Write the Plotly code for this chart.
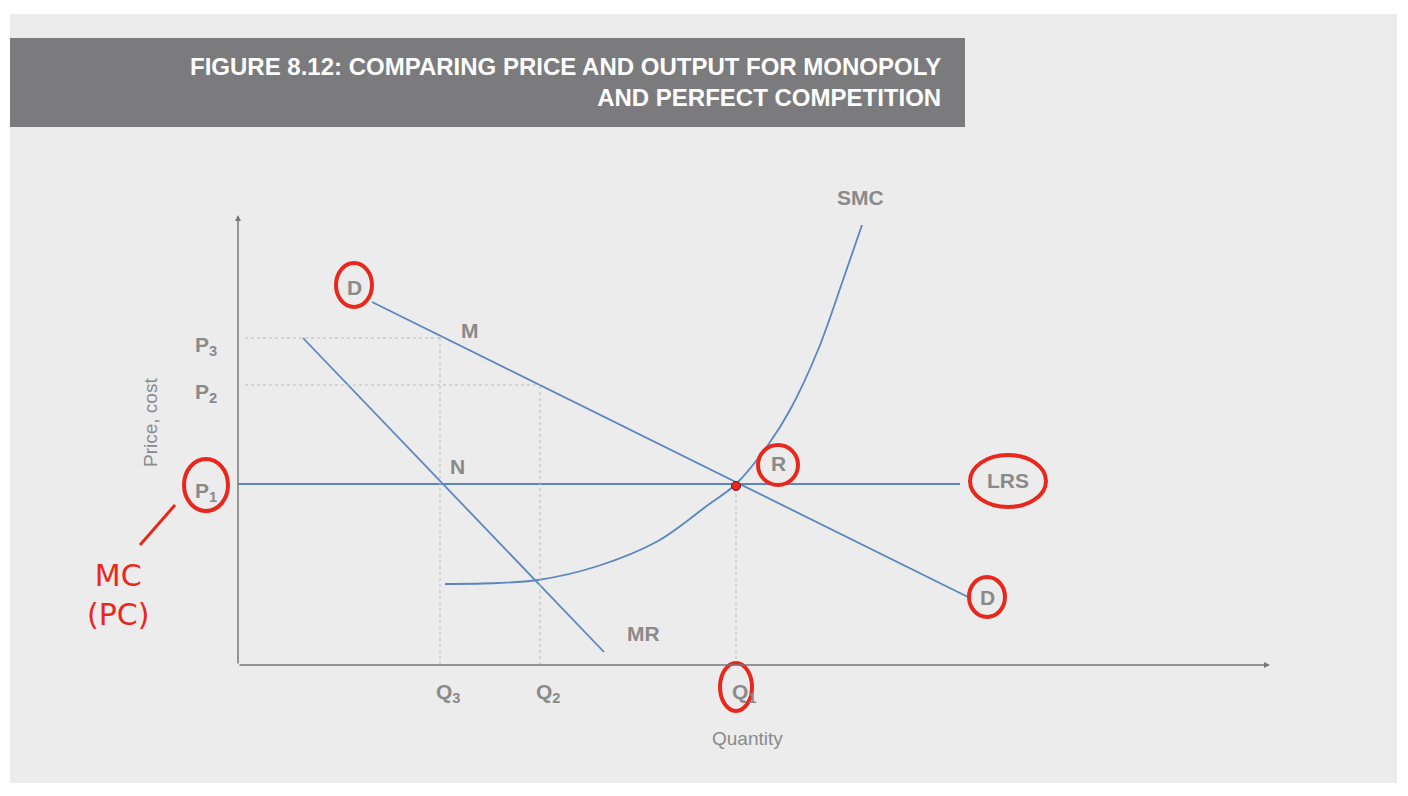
import plotly.graph_objects as go

# coordinates: quantity / price units (origin at the axis corner)
demand_q = [134, 730]
demand_p = [363, 68]
mr_q = [65, 366]
mr_p = [327, 13]
lrs_q = [0, 722]
lrs_p = [181, 181]
smc_q = [207, 260, 300, 360, 420, 470, 498, 530, 552, 580, 605, 624]
smc_p = [81, 82, 85, 99, 124, 160, 181, 220, 255, 315, 385, 440]

p_levels = [327, 280, 181]
p_labels = ["P<sub>3</sub>", "P<sub>2</sub>", "P<sub>1</sub>"]
q_levels = [202, 302, 498]
q_labels = ["Q<sub>3</sub>", "Q<sub>2</sub>", "Q<sub>1</sub>"]
q_dot_tops = [327, 280, 181]

blue = "#5b86c0"
grey = "#8a8a8a"
red = "#e8281c"

fig = go.Figure()
fig.add_trace(go.Scatter(x=demand_q, y=demand_p, mode="lines", line=dict(color=blue, width=1.8)))
fig.add_trace(go.Scatter(x=mr_q, y=mr_p, mode="lines", line=dict(color=blue, width=1.8)))
fig.add_trace(go.Scatter(x=lrs_q, y=lrs_p, mode="lines", line=dict(color=blue, width=1.8)))
fig.add_trace(go.Scatter(x=smc_q, y=smc_p, mode="lines", line=dict(color=blue, width=1.8, shape="spline")))

# dotted guides
fig.add_trace(go.Scatter(x=[7, q_levels[0]], y=[p_levels[0]] * 2, mode="lines", line=dict(color="#bbbbbb", width=1, dash="dot")))
fig.add_trace(go.Scatter(x=[7, q_levels[1]], y=[p_levels[1]] * 2, mode="lines", line=dict(color="#bbbbbb", width=1, dash="dot")))
for q, top in zip(q_levels, q_dot_tops):
    fig.add_trace(go.Scatter(x=[q, q], y=[0, top], mode="lines", line=dict(color="#bbbbbb", width=1, dash="dot")))

fig.add_trace(go.Scatter(x=[498], y=[179], mode="markers", marker=dict(color=red, size=9, line=dict(color="#7a1010", width=1))))

anns = []
lab = dict(color=grey, size=21, family="Liberation Sans Narrow, Liberation Sans, sans-serif")
for p, t in zip(p_levels, p_labels):
    anns.append(dict(x=-32, y=p - 8, text="<b>" + t + "</b>", showarrow=False, font=lab))
for q, t in zip(q_levels, q_labels):
    anns.append(dict(x=q + 8, y=-28, text="<b>" + t + "</b>", showarrow=False, font=lab))
for x, y, t in [(622, 468, "SMC"), (232, 335, "M"), (219, 199, "N"), (540, 202, "R"),
                (770, 185, "LRS"), (116, 378, "D"), (749, 68, "D"), (405, 32, "MR")]:
    anns.append(dict(x=x, y=y, text="<b>" + t + "</b>", showarrow=False, font=lab))
anns.append(dict(x=-88, y=242, text="Price, cost", textangle=-90, showarrow=False,
                 font=dict(color=grey, size=19, family="Liberation Sans")))
anns.append(dict(x=509, y=-73, text="Quantity", showarrow=False,
                 font=dict(color=grey, size=19, family="Liberation Sans")))
# axes with arrows
anns.append(dict(x=1032, y=0, ax=0, ay=0, axref="x", ayref="y", showarrow=True,
                 arrowhead=2, arrowsize=0.8, arrowwidth=1.5, arrowcolor="#777", text=""))
anns.append(dict(x=0, y=450, ax=0, ay=0, axref="x", ayref="y", showarrow=True,
                 arrowhead=2, arrowsize=0.8, arrowwidth=1.5, arrowcolor="#777", text=""))
# title banner
anns.append(dict(x=705, y=583, xanchor="right", yanchor="middle", align="right",
                 text="<b>FIGURE 8.12: COMPARING PRICE AND OUTPUT FOR MONOPOLY<br>AND PERFECT COMPETITION</b>",
                 showarrow=False, font=dict(color="white", size=24, family="Liberation Sans Narrow, Liberation Sans")))
# handwriting
anns.append(dict(x=-120, y=70, text="MC<br>(PC)", showarrow=False,
                 font=dict(color=red, size=30, family="DejaVu Sans")))

shapes = [
    dict(type="rect", x0=-228, x1=1159, y0=-118, y1=651,
         fillcolor="#ececec", line=dict(width=0), layer="below"),
    dict(type="rect", x0=-228, x1=727, y0=538, y1=627, fillcolor="#7b7b7d", line=dict(width=0), layer="below"),
]
for cx, cy, rx, ry in [(116, 380, 18, 22), (749, 68, 18, 20), (540, 200, 20, 20), (770, 184, 38, 26),
                       (-32, 180, 22, 26), (498, -22, 16, 24)]:
    shapes.append(dict(type="circle", x0=cx - rx, x1=cx + rx, y0=cy - ry, y1=cy + ry,
                       line=dict(color=red, width=4)))
shapes.append(dict(type="line", x0=-63, y0=160, x1=-98, y1=120, line=dict(color=red, width=3)))

fig.update_layout(
    width=1408, height=796, margin=dict(l=0, r=0, t=0, b=0),
    paper_bgcolor="white", plot_bgcolor="rgba(0,0,0,0)", showlegend=False,
    xaxis=dict(range=[-230, 1178], visible=False),
    yaxis=dict(range=[-139, 657], visible=False),
    annotations=anns, shapes=shapes,
)
fig.write_html("out.html")
